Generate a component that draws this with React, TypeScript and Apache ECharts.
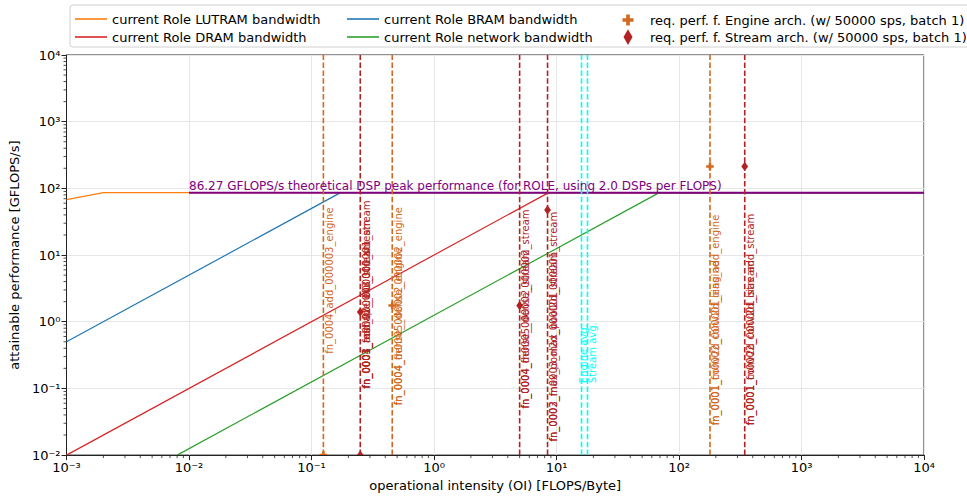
import React, { useEffect, useRef } from 'react';
import * as echarts from 'echarts';

const FONT = 'DejaVu Sans';
const PEAK = 86.27;
const OI_MIN = 0.001;
const OI_MAX = 10000;
const PERF_MIN = 0.01;
const PERF_MAX = 10000;

// roofline curves [OI, GFLOPS/s]
const lutramLine = [[0.001, 68], [0.002, 86.27], [10000, 86.27]];
const dramLine = [[0.001, 0.01], [8.627, 86.27], [10000, 86.27]];
const bramLine = [[0.001, 0.5], [0.1725, 86.27], [10000, 86.27]];
const networkLine = [[0.008, 0.01], [69.0, 86.27], [10000, 86.27]];
const peakLine = [[0.01, 86.27], [10000, 86.27]];

// requested performance points
const engineOI = [0.125, 0.456, 179];
const enginePerf = [0.01, 1.75, 213];
const streamOI = [0.25, 0.25, 5.0, 8.45, 344];
const streamPerf = [0.01, 1.4, 1.75, 47.5, 213];

// vertical marker lines
const engineLineOI = [0.125, 0.456, 179];
const streamLineOI = [0.25, 5.0, 8.45, 344];
const engineAvgOI = 16.0;
const streamAvgOI = 17.9;

// vertical labels
const engineLabelOI = [0.125, 0.456, 0.456, 179, 179];
const engineLabelBase = [0.33, 0.056, 0.056, 0.028, 0.028];
const engineLabelText = [
  'fn_0004_add_000003_engine',
  'fn_0004_fn0005_dense_000002_engine',
  'fn_0004_dense_000002_engine',
  'fn_0001_fn0002_conv2d_bias_add_engine',
  'fn_0001_conv2d_000001_engine',
];
const streamLabelOI = [0.25, 0.25, 0.25, 5.0, 5.0, 8.45, 8.45, 344, 344];
const streamLabelBase = [0.1, 0.1, 0.1, 0.05, 0.05, 0.016, 0.016, 0.028, 0.028];
const streamLabelText = [
  'fn_0001_fn0002_relu_000001_stream',
  'fn_0004_add_000003_stream',
  'fn_0003_reshape_000001_stream',
  'fn_0004_fn0005_dense_000002_stream',
  'fn_0004_dense_000002_stream',
  'fn_0002_fn0003_max_pool2d_000001_stream',
  'fn_0003_max_pool2d_000001_stream',
  'fn_0001_fn0002_conv2d_bias_add_stream',
  'fn_0001_conv2d_000001_stream',
];
const avgLabelText = ['Engine avg.', 'Stream avg.'];
const avgLabelBase = [0.12, 0.12];

const PEAK_TEXT = '86.27 GFLOPS/s theoretical DSP peak performance (for ROLE, using 2.0 DSPs per FLOPS)';

const NAMES = {
  lutram: 'current Role LUTRAM bandwidth',
  dram: 'current Role DRAM bandwidth',
  bram: 'current Role BRAM bandwidth',
  network: 'current Role network bandwidth',
  engine: 'req. perf. f. Engine arch. (w/ 50000 sps, batch 1)',
  stream: 'req. perf. f. Stream arch. (w/ 50000 sps, batch 1)',
};

const C_LUTRAM = '#ff7f0e';
const C_DRAM = '#d62728';
const C_BRAM = '#1f77b4';
const C_NET = '#2ca02c';
const C_ENGINE = '#d2691e';
const C_STREAM = '#b22222';
const C_AVG = '#00ffff';
const C_PEAK = '#800080';

const SUP: Record<string, string> = {
  '-': '\u207B', '0': '\u2070', '1': '\u00B9', '2': '\u00B2', '3': '\u00B3',
  '4': '\u2074', '5': '\u2075', '6': '\u2076', '7': '\u2077', '8': '\u2078', '9': '\u2079',
};
const pow10Label = (v: number) => {
  const e = Math.round(Math.log10(v));
  return '10' + String(e).split('').map((c) => SUP[c] || c).join('');
};

const minorValues = (kFrom: number, kTo: number) => {
  const out: number[] = [];
  for (let k = kFrom; k <= kTo; k++) {
    for (let m = 2; m <= 9; m++) out.push(m * Math.pow(10, k));
  }
  return out;
};
const xMinor = minorValues(-3, 3);
const yMinor = minorValues(-2, 3);

const PLUS_ICON = 'path://M4,0H8V4H12V8H8V12H4V8H0V4H4Z';
const DIAMOND_ICON = 'path://M4,0L8,7L4,14L0,7Z';

function buildOption() {
  const vlines = [
    ...engineLineOI.map((oi) => ({ oi, color: C_ENGINE })),
    ...streamLineOI.map((oi) => ({ oi, color: C_STREAM })),
    { oi: engineAvgOI, color: C_AVG },
    { oi: streamAvgOI, color: C_AVG },
  ];
  const labels = [
    ...engineLabelOI.map((oi, i) => ({ oi, base: engineLabelBase[i], text: engineLabelText[i], color: C_ENGINE, dx: 1 })),
    ...streamLabelOI.map((oi, i) => ({ oi, base: streamLabelBase[i], text: streamLabelText[i], color: C_STREAM, dx: 1 })),
    { oi: engineAvgOI, base: avgLabelBase[0], text: avgLabelText[0], color: C_AVG, dx: -3 },
    { oi: streamAvgOI, base: avgLabelBase[1], text: avgLabelText[1], color: C_AVG, dx: 0 },
  ];

  const axisCommon = {
    type: 'log',
    logBase: 10,
    nameLocation: 'middle',
    nameTextStyle: { fontSize: 13, color: '#000', fontFamily: FONT },
    axisLine: { show: true, onZero: false, lineStyle: { color: '#222', width: 1 } },
    axisTick: { show: true, length: 5, lineStyle: { color: '#222', width: 1 } },
    axisLabel: { formatter: pow10Label, fontSize: 13, color: '#000', fontFamily: FONT },
    splitLine: { show: true, lineStyle: { color: '#e6e6e6', width: 1 } },
  };

  const lineSeries = (name: string, data: number[][], color: string, z: number, width = 1.2) => ({
    type: 'line',
    name,
    data,
    symbol: 'none',
    showSymbol: false,
    z,
    lineStyle: { color, width },
    itemStyle: { color },
    emphasis: { disabled: true },
  });

  const lineLegend = (left: number, names: string[]) => ({
    orient: 'vertical', left, top: 12, padding: 0, itemWidth: 32, itemHeight: 1.6, itemGap: 4,
    selectedMode: false, z: 20,
    data: names.map((name) => ({ name, icon: 'rect' })),
    textStyle: { fontFamily: FONT, fontSize: 13, color: '#000', lineHeight: 14 },
  });

  return {
    animation: false,
    backgroundColor: '#ffffff',
    textStyle: { fontFamily: FONT },
    graphic: [
      {
        type: 'rect',
        shape: { x: 70, y: 5, width: 915, height: 42, r: 3 },
        style: { fill: 'rgba(255,255,255,0.8)', stroke: '#d0d0d0', lineWidth: 1 },
        z: 10,
        silent: true,
      },
    ],
    legend: [
      lineLegend(75, [NAMES.lutram, NAMES.dram]),
      lineLegend(347, [NAMES.bram, NAMES.network]),
      {
        orient: 'vertical', left: 622.5, top: 13.5, padding: 0, itemWidth: 11, itemHeight: 11,
        selectedMode: false, z: 20,
        data: [{ name: NAMES.engine, icon: PLUS_ICON }],
        textStyle: { fontFamily: FONT, fontSize: 13, color: '#000', lineHeight: 11, padding: [0, 0, 0, 11.5] },
      },
      {
        orient: 'vertical', left: 623.5, top: 29, padding: 0, itemWidth: 9, itemHeight: 16,
        selectedMode: false, z: 20,
        data: [{ name: NAMES.stream, icon: DIAMOND_ICON }],
        textStyle: { fontFamily: FONT, fontSize: 13, color: '#000', lineHeight: 16, padding: [0, 0, 0, 12.5] },
      },
    ],
    grid: {
      left: 63, right: 43, top: 55, bottom: 40,
      show: true, borderColor: '#222', borderWidth: 1, backgroundColor: 'transparent',
    },
    xAxis: {
      ...axisCommon,
      min: OI_MIN, max: OI_MAX, splitNumber: 7,
      name: 'operational intensity (OI) [FLOPS/Byte]',
      nameGap: 21,
      axisLabel: { ...axisCommon.axisLabel, margin: 6 },
    },
    yAxis: {
      ...axisCommon,
      min: PERF_MIN, max: PERF_MAX, splitNumber: 6,
      name: 'attainable performance [GFLOPS/s]',
      nameGap: 38, nameRotate: 90,
      axisLabel: { ...axisCommon.axisLabel, margin: 6 },
    },
    series: [
      lineSeries(NAMES.lutram, lutramLine, C_LUTRAM, 2),
      lineSeries(NAMES.dram, dramLine, C_DRAM, 2),
      lineSeries(NAMES.bram, bramLine, C_BRAM, 2),
      lineSeries(NAMES.network, networkLine, C_NET, 2),
      lineSeries('peak', peakLine, C_PEAK, 3, 2),
      {
        type: 'custom', name: 'vlines', coordinateSystem: 'cartesian2d', z: 5, silent: true, clip: true,
        data: vlines.map((d) => [d.oi, PERF_MIN]),
        encode: { x: 0, y: 1 },
        renderItem: (params: any, api: any) => {
          const d = vlines[params.dataIndex];
          const p1 = api.coord([d.oi, PERF_MIN]);
          const p2 = api.coord([d.oi, PERF_MAX]);
          return {
            type: 'line',
            shape: { x1: p1[0], y1: p1[1], x2: p2[0], y2: p2[1] },
            style: { stroke: d.color, lineWidth: 1.6, lineDash: [5.5, 2.4] },
          };
        },
      },
      {
        type: 'custom', name: NAMES.engine, coordinateSystem: 'cartesian2d', z: 6, silent: true, clip: true,
        itemStyle: { color: C_ENGINE },
        data: engineOI.map((x, i) => [x, enginePerf[i]]),
        encode: { x: 0, y: 1 },
        renderItem: (params: any, api: any) => {
          const p = api.coord([api.value(0), api.value(1)]);
          const s = 3.8, t = 1.3;
          const pts = [[-t, -s], [t, -s], [t, -t], [s, -t], [s, t], [t, t], [t, s], [-t, s], [-t, t], [-s, t], [-s, -t], [-t, -t]]
            .map(([a, b]) => [p[0] + a, p[1] + b]);
          return { type: 'polygon', shape: { points: pts }, style: { fill: C_ENGINE } };
        },
      },
      {
        type: 'custom', name: NAMES.stream, coordinateSystem: 'cartesian2d', z: 6, silent: true, clip: true,
        itemStyle: { color: C_STREAM },
        data: streamOI.map((x, i) => [x, streamPerf[i]]),
        encode: { x: 0, y: 1 },
        renderItem: (params: any, api: any) => {
          const p = api.coord([api.value(0), api.value(1)]);
          const pts = [[0, -4.6], [3.4, 0], [0, 4.6], [-3.4, 0]].map(([a, b]) => [p[0] + a, p[1] + b]);
          return { type: 'polygon', shape: { points: pts }, style: { fill: C_STREAM } };
        },
      },
      {
        type: 'custom', name: 'labels', coordinateSystem: 'cartesian2d', z: 7, silent: true, clip: false,
        data: labels.map((d) => [d.oi, d.base]),
        encode: { x: 0, y: 1 },
        renderItem: (params: any, api: any) => {
          const d = labels[params.dataIndex];
          const p = api.coord([d.oi, d.base]);
          return {
            type: 'text',
            x: p[0] + d.dx,
            y: p[1],
            rotation: Math.PI / 2,
            style: { text: d.text, fill: d.color, font: `10px "${FONT}"`, align: 'left', verticalAlign: 'top' },
          };
        },
      },
      {
        type: 'custom', name: 'peakText', coordinateSystem: 'cartesian2d', z: 7, silent: true, clip: false,
        data: [[peakLine[0][0], PEAK]],
        encode: { x: 0, y: 1 },
        renderItem: (params: any, api: any) => {
          const p = api.coord([api.value(0), api.value(1)]);
          return {
            type: 'text', x: p[0], y: p[1] - 1,
            style: { text: PEAK_TEXT, fill: C_PEAK, font: `12px "${FONT}"`, align: 'left', verticalAlign: 'bottom' },
          };
        },
      },
      {
        type: 'custom', name: 'xMinor', coordinateSystem: 'cartesian2d', z: 3, silent: true, clip: false,
        data: xMinor.map((v) => [v, PERF_MIN]),
        encode: { x: 0, y: 1 },
        renderItem: (params: any, api: any) => {
          const p = api.coord([api.value(0), PERF_MIN]);
          return { type: 'line', shape: { x1: p[0], y1: p[1], x2: p[0], y2: p[1] + 3 }, style: { stroke: '#222', lineWidth: 0.8 } };
        },
      },
      {
        type: 'custom', name: 'yMinor', coordinateSystem: 'cartesian2d', z: 3, silent: true, clip: false,
        data: yMinor.map((v) => [OI_MIN, v]),
        encode: { x: 0, y: 1 },
        renderItem: (params: any, api: any) => {
          const p = api.coord([OI_MIN, api.value(1)]);
          return { type: 'line', shape: { x1: p[0] - 3, y1: p[1], x2: p[0], y2: p[1] }, style: { stroke: '#222', lineWidth: 0.8 } };
        },
      },
    ],
  };
}

export default function App() {
  const ref = useRef<HTMLDivElement>(null);
  useEffect(() => {
    document.body.style.margin = '0';
    const chart = echarts.init(ref.current as HTMLDivElement, undefined, { renderer: 'svg' });
    chart.setOption(buildOption() as any);
    return () => chart.dispose();
  }, []);
  return <div ref={ref} style={{ width: 967, height: 497 }} />;
}
